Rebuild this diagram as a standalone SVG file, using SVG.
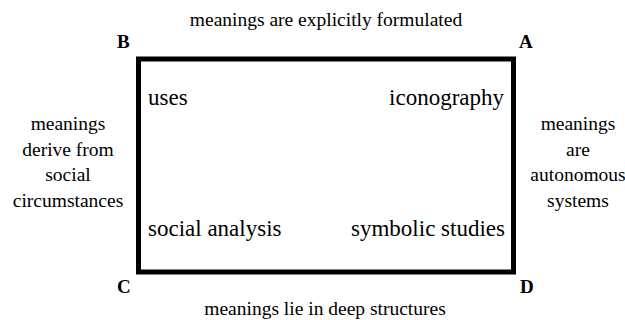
<svg xmlns="http://www.w3.org/2000/svg" width="625" height="320" viewBox="0 0 625 320">
<style>
text{font-family:'Liberation Serif','Times New Roman',serif;fill:#000}
.side{font-size:19.5px;text-anchor:middle}
.in{font-size:23px}
.cor{font-size:19px;font-weight:bold}
</style>
<rect width="625" height="320" fill="#fff"/>
<g id="connectors">
<rect x="138.5" y="59" width="375" height="213" fill="none" stroke="#000" stroke-width="5"/>
</g>
<g id="top-label"><text class="side" x="326" y="26">meanings are explicitly formulated</text></g>
<g id="bottom-label"><text class="side" x="325" y="315">meanings lie in deep structures</text></g>
<g id="left-label"><text class="side" x="68"><tspan x="68" y="130">meanings</tspan><tspan x="68" y="156">derive from</tspan><tspan x="68" y="181">social</tspan><tspan x="68" y="207">circumstances</tspan></text></g>
<g id="right-label"><text class="side" x="578"><tspan x="578" y="130">meanings</tspan><tspan x="578" y="156">are</tspan><tspan x="578" y="181">autonomous</tspan><tspan x="578" y="207">systems</tspan></text></g>
<g id="B"><text class="cor" x="117" y="48">B</text></g>
<g id="A"><text class="cor" x="519" y="48">A</text></g>
<g id="C"><text class="cor" x="117" y="293">C</text></g>
<g id="D"><text class="cor" x="520" y="293">D</text></g>
<g id="uses"><text class="in" x="148" y="105">uses</text></g>
<g id="iconography"><text class="in" x="504" y="105" text-anchor="end">iconography</text></g>
<g id="social-analysis"><text class="in" x="148" y="236">social analysis</text></g>
<g id="symbolic-studies"><text class="in" x="505" y="236" text-anchor="end">symbolic studies</text></g>
</svg>
